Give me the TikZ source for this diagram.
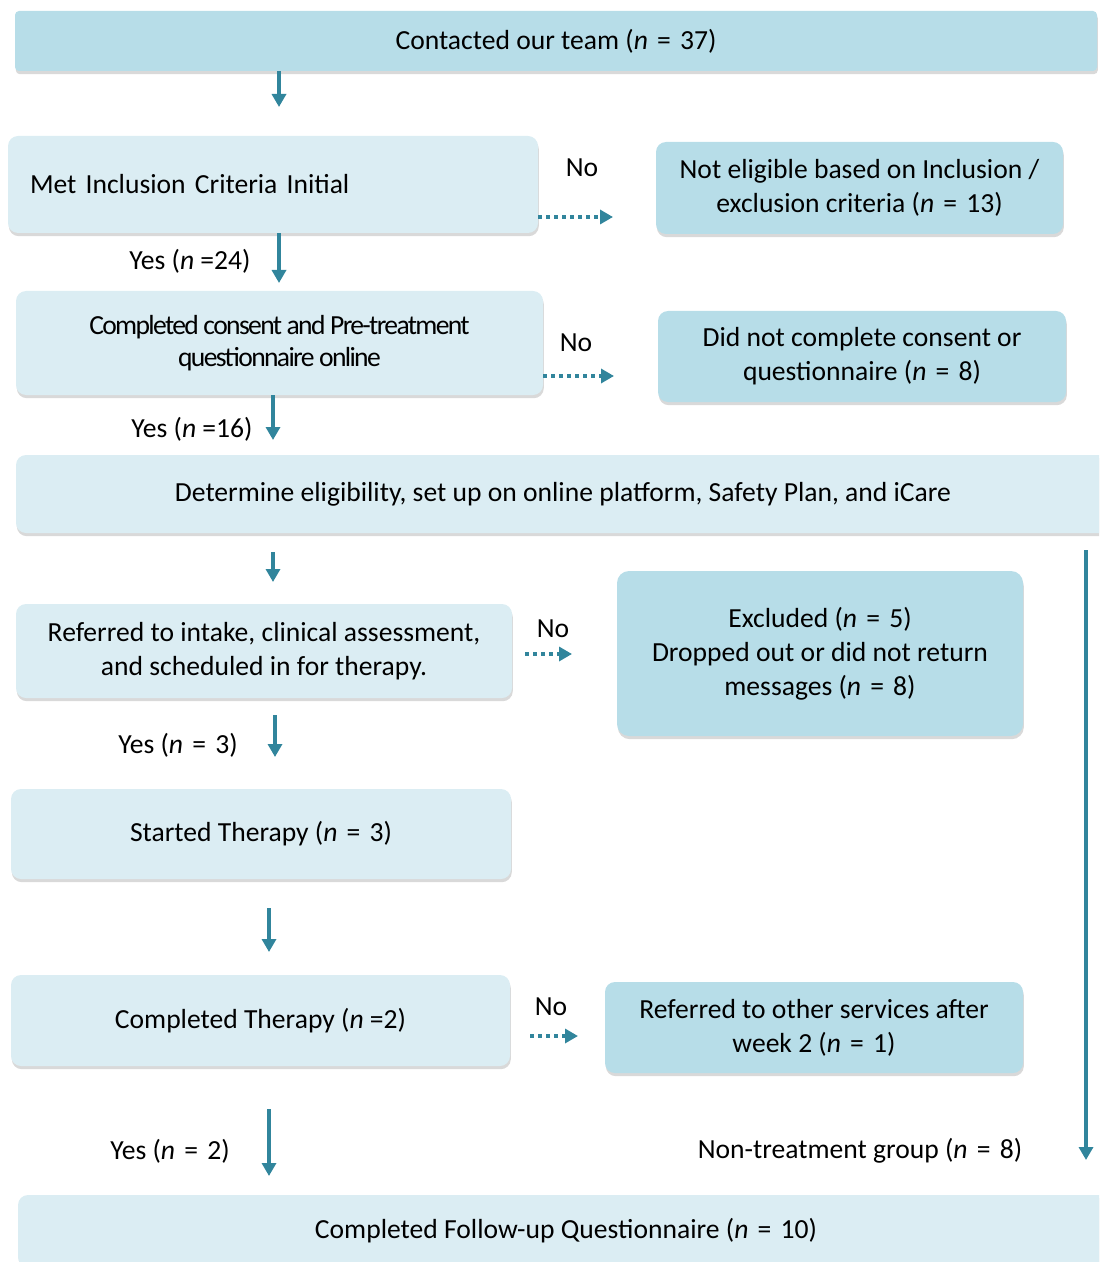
\documentclass[tikz,border=0pt]{standalone}
\usepackage{fontspec}
\setmainfont{Carlito}
\usepackage{tikz}
\usetikzlibrary{arrows.meta,shadows}
\definecolor{boxDark}{HTML}{B7DDE8}
\definecolor{boxLight}{HTML}{DBEDF3}
\definecolor{arrowTeal}{HTML}{31859C}
\newcommand{\eqn}[1]{(\textit{n}\,\,=\,\,#1)}

\begin{document}
\begin{tikzpicture}[
  x=0.5pt, y=-0.5pt,
  font=\fontsize{13.8}{17}\selectfont,
  box/.style={rounded corners=5pt, align=center, inner sep=0pt,
    drop shadow={shadow xshift=0.4pt, shadow yshift=-1.6pt, opacity=0.3}},
  lightbox/.style={box, fill=boxLight},
  darkbox/.style={box, fill=boxDark},
  flow/.style={-{Triangle[width=7pt,length=6.5pt]}, line width=2pt, draw=arrowTeal},
  nobranch/.style={-{Triangle[width=7pt,length=6.5pt]}, line width=2pt,
    draw=arrowTeal, dash pattern=on 2pt off 2pt},
  lbl/.style={inner sep=0pt}
]
  \useasboundingbox (0,0) rectangle (1099,1262);
  \clip (0,0) rectangle (1099,1262);

  % boxes
  \node[darkbox, rounded corners=2pt, minimum width=541pt, minimum height=30pt] (contact) at (556,41) {Contacted our team \eqn{37}};
  \node[lightbox, minimum width=265pt, minimum height=48.5pt, text width=243pt, align=left] (inclusion) at (273,184.5) {Met Inclusion Criteria Initial};
  \node[darkbox, minimum width=203.5pt, minimum height=46pt] (noteligible) at (859.5,188) {Not eligible based on Inclusion /\\exclusion criteria \eqn{13}};
  \node[lightbox, minimum width=263.5pt, minimum height=52pt,
    font=\fontsize{13.8}{16}\selectfont\addfontfeatures{LetterSpace=-6}] (consent) at (279.5,343) {Completed consent and Pre-treatment\\questionnaire online};
  \node[darkbox, minimum width=204pt, minimum height=45.5pt] (noconsent) at (862,356.5) {Did not complete consent or\\questionnaire \eqn{8}};
  \node[lightbox, minimum width=547pt, minimum height=39pt] (determine) at (563,494) {Determine eligibility, set up on online platform, Safety Plan, and iCare};
  \node[lightbox, minimum width=248pt, minimum height=47pt] (referred) at (264,651) {Referred to intake, clinical assessment,\\and scheduled in for therapy.};
  \node[darkbox, rounded corners=6pt, minimum width=203pt, minimum height=82.5pt] (excluded) at (820,653.5) {Excluded \eqn{5}\\Dropped out or did not return\\messages \eqn{8}};
  \node[lightbox, minimum width=250pt, minimum height=45pt] (started) at (261,834) {Started Therapy \eqn{3}};
  \node[lightbox, minimum width=249.5pt, minimum height=45.5pt] (completed) at (260.5,1020.5) {Completed Therapy (\textit{n} =2)};
  \node[darkbox, minimum width=209pt, minimum height=45.5pt] (otherservices) at (814,1027.5) {Referred to other services after\\week 2 \eqn{1}};
  \node[lightbox, minimum width=548pt, minimum height=36pt] (followup) at (566,1231) {Completed Follow-up Questionnaire \eqn{10}};

  % labels
  \node[lbl] (no1) at (582,168) {No};
  \node[lbl] (no2) at (576,343) {No};
  \node[lbl] (no3) at (553,629) {No};
  \node[lbl] (no4) at (551,1007) {No};
  \node[lbl] (yes1) at (190,261) {Yes (\textit{n} =24)};
  \node[lbl] (yes2) at (192,429) {Yes (\textit{n} =16)};
  \node[lbl] (yes3) at (178,745) {Yes \eqn{3}};
  \node[lbl] (yes4) at (170,1151) {Yes \eqn{2}};
  \node[lbl] (nontreat) at (860,1151) {Non-treatment group \eqn{8}};

  % free arrow ends
  \coordinate (t1) at (279,107);
  \coordinate (t2) at (279,283);
  \coordinate (t3) at (273,440);
  \coordinate (t4) at (273,582);
  \coordinate (t5) at (275,757);
  \coordinate (t6) at (269,952);
  \coordinate (t7) at (269,1176);
  \coordinate (tlong) at (1086,1160);
  \coordinate (n1) at (613,217);
  \coordinate (n2) at (614,376);
  \coordinate (n3) at (572,654);
  \coordinate (n4) at (578,1036);

  \draw[flow] (contact.south -| t1) -- (t1);
  \draw[flow] (inclusion.south -| t2) -- (t2);
  \draw[flow] (consent.south -| t3) -- (t3);
  \draw[flow, shorten <=9.5pt] (determine.south -| t4) -- (t4);
  \draw[flow, shorten <=8.5pt] (referred.south -| t5) -- (t5);
  \draw[flow, shorten <=14.5pt] (started.south -| t6) -- (t6);
  \draw[flow, shorten <=21.5pt] (completed.south -| t7) -- (t7);
  \draw[flow, shorten <=8.5pt] (determine.south -| tlong) -- (tlong);

  \draw[nobranch] (inclusion.east |- n1) -- (n1);
  \draw[nobranch] (consent.east |- n2) -- (n2);
  \draw[nobranch, shorten <=6.5pt] (referred.east |- n3) -- (n3);
  \draw[nobranch, shorten <=10pt] (completed.east |- n4) -- (n4);
\end{tikzpicture}
\end{document}
